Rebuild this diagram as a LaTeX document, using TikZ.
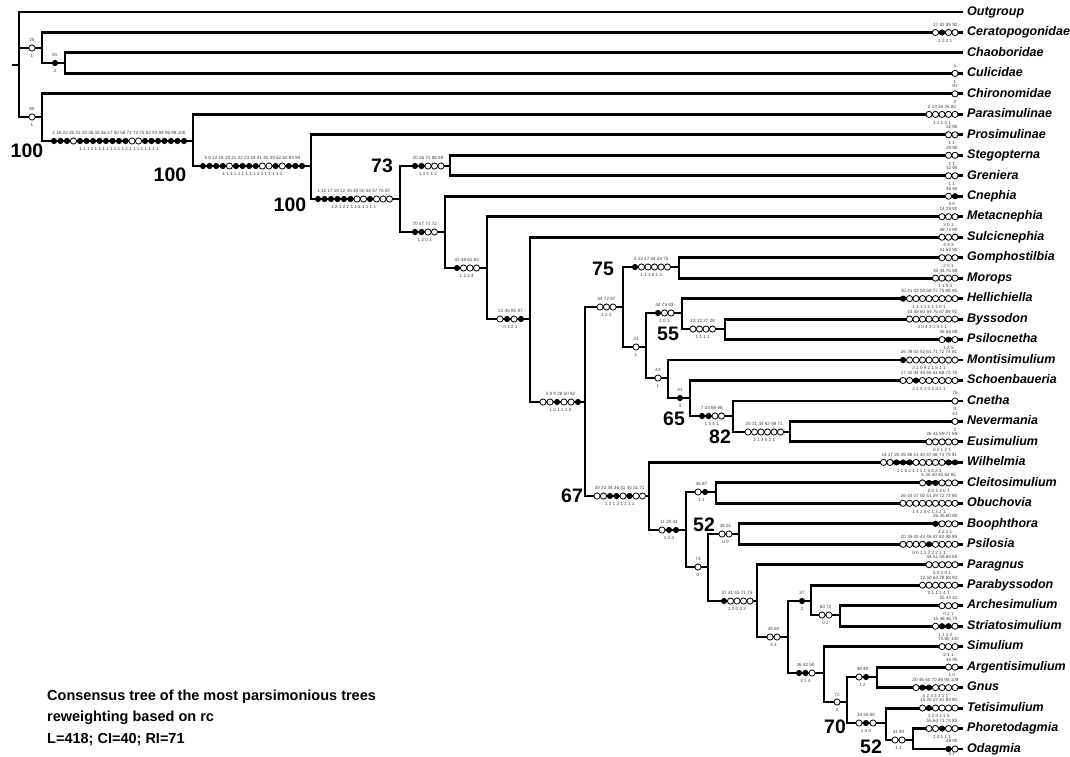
\documentclass[tikz,border=0pt]{standalone}
\usepackage{fontspec}
\setmainfont{Liberation Sans}
\tikzset{
  br/.style={line width=2.9pt},
  taxon/.style={anchor=west, inner sep=0pt, font=\fontsize{12.5}{14}\selectfont\bfseries\itshape, text height=9pt, text depth=2.5pt},
  boot/.style={inner sep=0pt, font=\fontsize{19.5}{20}\selectfont\bfseries},
  chtxt/.style={inner sep=0pt, font=\fontsize{4.6}{5}\selectfont, text=black!75},
  captxt/.style={anchor=base west, inner sep=0pt, font=\fontsize{14.5}{17}\selectfont\bfseries},
}
\newcommand\mk[6]{%
  \foreach \t [count=\i] in {#4}{%
    \pgfmathsetmacro\xx{#1+(\i-1)*#3}%
    \if b\t \fill (\xx,#2) circle[radius=3.1pt];%
    \else \filldraw[fill=white,line width=0.8pt] (\xx,#2) circle[radius=3.1pt];\fi
    \xdef\lastx{\xx}%
  }%
  \node[chtxt] at ({(#1+\lastx)/2},{#2-7.6}) {#5};%
  \node[chtxt] at ({(#1+\lastx)/2},{#2+8.2}) {#6};%
}
\begin{document}
\begin{tikzpicture}[x=1pt,y=-1pt]
\useasboundingbox (0,0) rectangle (1070,756);
% leaves
\foreach \nm/\lab [count=\i from 0] in {out/Outgroup,cer/Ceratopogonidae,cha/Chaoboridae,cul/Culicidae,chi/Chironomidae,par/Parasimulinae,pro/Prosimulinae,ste/Stegopterna,gre/Greniera,cne/Cnephia,met/Metacnephia,sul/Sulcicnephia,gom/Gomphostilbia,mor/Morops,hel/Hellichiella,bys/Byssodon,psc/Psilocnetha,mon/Montisimulium,sch/Schoenbaueria,cnt/Cnetha,nev/Nevermania,eus/Eusimulium,wil/Wilhelmia,cle/Cleitosimulium,obu/Obuchovia,boo/Boophthora,psi/Psilosia,pag/Paragnus,pab/Parabyssodon,arc/Archesimulium,str/Striatosimulium,sim/Simulium,arg/Argentisimulium,gnu/Gnus,tet/Tetisimulium,pho/Phoretodagmia,oda/Odagmia}{
  \coordinate (\nm) at (963,{12+\i*20.472});
  \node[taxon] (\nm L) at (967,{12+\i*20.472}) {\lab};
}
% internal nodes
\coordinate (rs) at (12,65);
\coordinate (root) at (19,65);
\coordinate (nA) at (42,48);
\coordinate (nB) at (65,63);
\coordinate (nC) at (42,117);
\coordinate (nD) at (193,141);
\coordinate (nE) at (311,166);
\coordinate (nF) at (400,199);
\coordinate (nG) at (450,166);
\coordinate (nH) at (445,232);
\coordinate (nI) at (487,268);
\coordinate (nJ) at (530,319);
\coordinate (nK) at (585,402);
\coordinate (nL) at (623,307);
\coordinate (nM) at (679,267);
\coordinate (nN) at (646,347);
\coordinate (nO) at (682,313);
\coordinate (nP) at (725,329);
\coordinate (nQ) at (668,378);
\coordinate (nR) at (690,398);
\coordinate (nS) at (733,416);
\coordinate (nS2) at (790,432);
\coordinate (nT) at (649,496);
\coordinate (nU) at (686,530);
\coordinate (nV) at (716,492);
\coordinate (nW) at (708,567);
\coordinate (nX) at (739,534);
\coordinate (nY) at (757,601);
\coordinate (nZ) at (788,637);
\coordinate (n1) at (811,601);
\coordinate (n2) at (840,615);
\coordinate (n3) at (824,673);
\coordinate (n4) at (847,702);
\coordinate (n5) at (877,677);
\coordinate (n6) at (886,723);
\coordinate (n7) at (913,740);
\draw[br] (rs) -- (root);
\foreach \p/\c in {root/out,root/nA,root/nC,nA/cer,nA/nB,nB/cha,nB/cul,nC/chi,nC/nD,nD/par,nD/nE,nE/pro,nE/nF,nF/nG,nF/nH,nG/ste,nG/gre,nH/cne,nH/nI,nI/met,nI/nJ,nJ/sul,nJ/nK,nK/nL,nK/nT,nL/nM,nL/nN,nM/gom,nM/mor,nN/nO,nN/nQ,nO/hel,nO/nP,nP/bys,nP/psc,nQ/mon,nQ/nR,nR/sch,nR/nS,nS/cnt,nS/nS2,nS2/nev,nS2/eus,nT/wil,nT/nU,nU/nV,nU/nW,nV/cle,nV/obu,nW/nX,nW/nY,nX/boo,nX/psi,nY/pag,nY/nZ,nZ/n1,nZ/n3,n1/pab,n1/n2,n2/arc,n2/str,n3/sim,n3/n4,n4/n5,n4/n6,n5/arg,n5/gnu,n6/tet,n6/n7,n7/pho,n7/oda}
  \draw[br] (\p) |- (\c);
% character markers on internal branches
\mk{32}{48}{6.5}{o}{25}{1}
\mk{55}{63}{6.5}{b}{81}{0}
\mk{32}{117}{6.5}{o}{80}{1}
\mk{54}{141}{6.5}{b,b,b,o,b,b,b,b,b,b,b,b,o,o,b,b,b,b,b,b,b}{2 16 22 26 31 33 36 45 46 47 50 58 71 72 75 82 93 94 96 99 100}{1 1 1 2 1 1 1 1 1 1 1 1 2 1 1 1 1 1 1 1 1}
\mk{203}{166}{6.6}{b,b,b,b,o,b,b,b,b,o,o,b,o,b,b,b}{5 8 12 18 19 21 22 23 24 41 45 49 52 62 93 94}{1 1 1 1 1 1 1 1 1 2 1 1 1 1 1 1}
\mk{318}{199}{6.5}{b,b,b,b,b,b,o,o,b,o,o,o}{1 12 17 19 22 45 49 50 54 57 70 87}{1 2 1 2 2 1 1 1 1 1 1 1}
\mk{415}{166}{6.5}{b,b,o,o,o}{20 26 71 88 89}{1 1 1 1 2}
\mk{415}{232}{6.5}{b,b,o,o}{70 47 71 72}{1 2 0 3}
\mk{457}{268}{6.5}{b,o,o,o}{47 48 61 82}{1 2 2 4}
\mk{500}{319}{7}{o,b,o,b}{21 36 85 87}{0 1 2 1}
\mk{543}{402}{7}{o,o,b,o,o,b}{5 8 9 28 50 92}{1 0 1 1 1 0}
\mk{600}{307}{6.5}{o,o,o}{54 72 87}{1 2 2}
\mk{635}{267}{6.5}{b,o,o,o,o,o}{4 13 27 44 64 75}{1 1 1 0 1 2}
\mk{636}{347}{6.5}{o}{31}{1}
\mk{658}{313}{6.5}{b,o,o}{44 75 93}{1 0 1}
\mk{693}{329}{6.5}{o,o,o,o}{13 22 27 28}{1 1 1 1}
\mk{658}{378}{6.5}{o}{43}{1}
\mk{680}{398}{6.5}{b}{41}{4}
\mk{702}{416}{6.5}{b,b,o,o}{7 43 66 68}{1 5 4 1}
\mk{748}{432}{6.5}{o,o,o,o,o,o}{25 31 44 62 69 71}{1 1 4 5 2 1}
\mk{597}{496}{6.5}{o,o,b,b,o,b,o,o}{20 32 34 36 41 44 51 71}{1 2 1 2 1 1 1 1}
\mk{662}{530}{7}{o,b,b}{11 20 44}{1 3 4}
\mk{698}{492}{7}{o,b}{46 87}{1 1}
\mk{698}{567}{6.5}{o}{74}{0}
\mk{722}{534}{7}{o,o}{38 51}{0 0}
\mk{724}{601}{6.5}{b,o,o,o,o}{37 41 45 71 75}{1 2 0 0 2}
\mk{770}{637}{7}{o,o}{48 60}{5 1}
\mk{802}{601}{6.5}{b}{37}{2}
\mk{822}{615}{7}{o,o}{60 72}{0 2}
\mk{799}{673}{6.5}{b,b,o}{36 42 50}{2 1 4}
\mk{837}{702}{6.5}{o}{72}{2}
\mk{859}{677}{7}{o,b}{48 49}{1 2}
\mk{859}{723}{7}{o,b,o}{14 46 60}{1 4 0}
\mk{895}{740}{7}{o,o}{41 90}{1 1}
% character markers on terminal branches
\mk{935.5}{32.5}{6.5}{o,b,o,o}{17 32 35 92}{1 2 2 1}
\mk{955}{73.4}{6.5}{o}{5}{1}
\mk{955}{93.9}{6.5}{o}{92}{0}
\mk{929}{114.4}{6.5}{o,o,o,o,o}{2 13 26 35 80}{1 1 1 2 1}
\mk{948.5}{134.8}{6.5}{o,o}{32 90}{1 1}
\mk{948.5}{155.3}{6.5}{o,o}{29 90}{1 1}
\mk{948.5}{175.8}{6.5}{o,o}{32 90}{1 1}
\mk{948.5}{196.2}{6.5}{o,b}{46 90}{3 0}
\mk{942}{216.7}{6.5}{o,o,o}{14 29 90}{3 0 1}
\mk{942}{237.2}{6.5}{o,o,o}{46 72 90}{4 3 3}
\mk{942}{257.7}{6.5}{o,o,o}{41 52 90}{2 0 1}
\mk{935.5}{278.1}{6.5}{o,o,o,o}{36 44 75 89}{1 1 0 4}
\mk{903}{298.6}{6.5}{b,o,o,o,o,o,o,o,o}{30 41 43 50 58 72 75 89 95}{1 1 1 1 1 1 1 0 1}
\mk{909.5}{319.1}{6.5}{o,o,o,o,o,o,o,o}{43 48 60 65 75 87 89 92}{3 0 4 2 1 4 1 1}
\mk{942}{339.6}{6.5}{o,b,o}{46 66 89}{1 2 5}
\mk{903}{360}{6.5}{b,o,o,o,o,o,o,o,o}{26 39 43 52 61 71 72 74 81}{2 1 0 9 2 1 5 1 1}
\mk{903}{380.5}{6.5}{o,o,b,o,o,o,o,o,o}{17 32 44 45 46 51 68 72 75}{2 1 4 1 0 2 3 1 1}
\mk{955}{401}{6.5}{o}{76}{0}
\mk{955}{421.4}{6.5}{o}{41}{2}
\mk{929}{441.9}{6.5}{o,o,o,o,o}{26 41 69 71 89}{0 2 1 2 1}
\mk{883.5}{462.4}{6.5}{o,o,b,b,b,o,o,o,o,o,b,b}{14 17 20 26 38 41 43 47 48 74 79 91}{1 1 5 2 1 1 1 1 5 4 2 1}
\mk{922.5}{482.9}{6.5}{o,b,b,o,o,o}{5 34 40 45 64 85}{0 0 1 3 0 1}
\mk{903}{503.3}{6.5}{o,o,o,o,o,o,o,o,o}{26 44 47 50 51 59 72 73 80}{1 4 2 0 0 1 3 2 1}
\mk{935.5}{523.8}{6.5}{b,o,o,o}{26 45 60 80}{4 2 1 1}
\mk{903}{544.3}{6.5}{o,o,o,o,b,o,o,o,o}{20 35 43 44 46 47 80 88 89}{0 0 1 1 3 2 2 1 1}
\mk{929}{564.7}{6.5}{o,o,o,o,o}{44 51 58 64 85}{5 0 3 0 1}
\mk{922.5}{585.2}{6.5}{o,o,o,o,o,o}{32 50 64 79 88 90}{0 1 1 1 4 1}
\mk{942}{605.7}{6.5}{o,o,o}{25 40 41}{0 1 1}
\mk{935.5}{626.2}{6.5}{o,b,b,o}{15 38 46 79}{1 1 1 2}
\mk{942}{646.6}{6.5}{o,o,o}{75 80 100}{2 1 1}
\mk{948.5}{667.1}{6.5}{o,o}{45 90}{1 0}
\mk{916}{687.6}{6.5}{o,b,b,o,o,o,o}{20 46 60 70 86 95 109}{4 2 3 3 2 1 1}
\mk{922.5}{708}{6.5}{o,b,o,o,o,o}{15 20 27 41 84 90}{1 2 0 1 1 5}
\mk{929}{728.5}{6.5}{o,o,b,o,o}{55 64 71 74 85}{1 0 1 1 1}
\mk{948.5}{749}{6.5}{b,o}{48 90}{}
\node[chtxt, anchor=south] (odab) at (951.75,755.6) {4 1};
% bootstrap values
\node[boot] (b1) at (27,151) {100};
\node[boot] (b2) at (170,175) {100};
\node[boot] (b3) at (290,205) {100};
\node[boot] (b4) at (382,166) {73};
\node[boot] (b5) at (603,269) {75};
\node[boot] (b6) at (668,334) {55};
\node[boot] (b7) at (674,419) {65};
\node[boot] (b8) at (720,437) {82};
\node[boot] (b9) at (572,496) {67};
\node[boot] (b10) at (704,525) {52};
\node[boot] (b11) at (835,727) {70};
\node[boot] (b12) at (871,747) {52};
% caption
\node[captxt] (c1) at (47,700) {Consensus tree of the most parsimonious trees};
\node[captxt] (c2) at (47,721) {reweighting based on rc};
\node[captxt] (c3) at (47,743) {L=418; CI=40; RI=71};
\end{tikzpicture}
\end{document}
